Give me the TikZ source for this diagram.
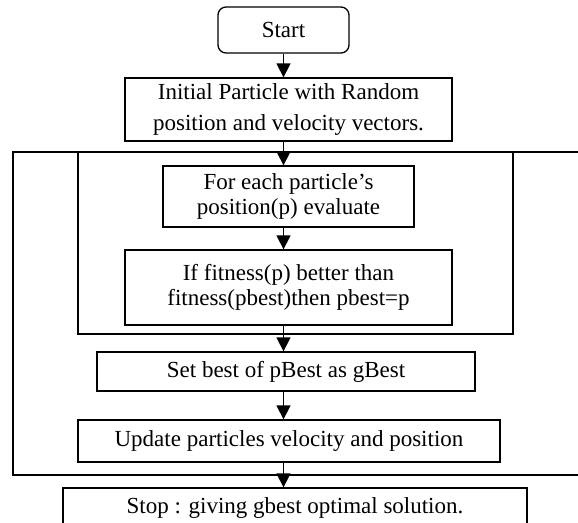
\documentclass[tikz,border=0pt]{standalone}
\usepackage{fontspec}
\setmainfont{Liberation Serif}
\usetikzlibrary{arrows.meta,positioning,calc}

\begin{document}
\begin{tikzpicture}[>={Triangle[width=14pt,length=14pt]},x=1pt,y=-1pt,
  box/.style={draw,line width=1.3pt,inner sep=0pt,align=center,font=\fontsize{23}{25}\selectfont},
  flow/.style={->,line width=1.4pt}]
\useasboundingbox (0,0) rectangle (578,522);
\clip (0,0) rectangle (578,522);
\draw[line width=1.3pt] (13,152) rectangle (600,475);
\draw[line width=1.3pt] (78,152) rectangle (513,334);
\node[box,rounded corners=8pt,minimum width=131pt,minimum height=46pt] (start) at (283.5,30) {Start};
\node[box,font=\fontsize{23}{31}\selectfont,minimum width=327pt,minimum height=63pt] (init) at (288.5,109.5) {Initial Particle with Random\\position and velocity vectors.};
\node[box,minimum width=251pt,minimum height=61pt] (each) at (288.5,196.5) {For each particle's\\position(p) evaluate};
\node[box,minimum width=327pt,minimum height=75pt] (fit) at (288.5,287.5) {If fitness(p) better than\\fitness(pbest)then pbest=p};
\node[box,minimum width=378pt,minimum height=39pt] (gset) at (286,371.5) {Set best of pBest as gBest};
\node[box,minimum width=422pt,minimum height=42pt] (upd) at (289,441) {Update particles velocity and position};
\node[box,minimum width=464pt,minimum height=40pt] (stop) at (295,508) {Stop : giving gbest optimal solution.};
\draw[flow] (start) -- (start |- init.north);
\draw[flow] (init.south -| start) -- (each.north -| start);
\draw[flow] (each.south -| start) -- (fit.north -| start);
\draw[flow] (fit.south -| start) -- (gset.north -| start);
\draw[flow] (gset.south -| start) -- (upd.north -| start);
\draw[flow] (upd.south -| start) -- (stop.north -| start);
\end{tikzpicture}
\end{document}
